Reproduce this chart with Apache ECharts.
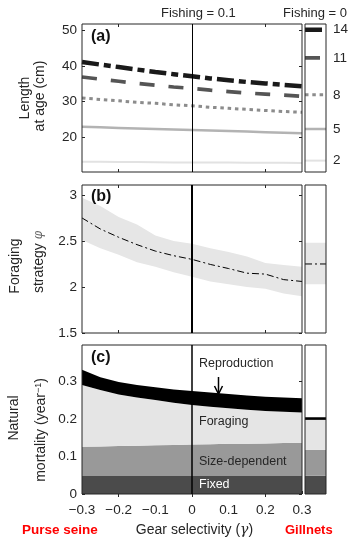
<!DOCTYPE html>
<html>
<head>
<meta charset="utf-8">
<script src="https://cdn.jsdelivr.net/npm/echarts@6.0.0/dist/echarts.min.js"></script>
<style>
  html, body { margin: 0; padding: 0; background: #fff; }
  #chart { width: 350px; height: 541px; }
</style>
</head>
<body>
<div id="chart"></div>
<script>
// gear selectivity values (x of the three main panels)
const gamma = [-0.3, -0.25, -0.2, -0.15, -0.1, -0.05, 0, 0.05, 0.1, 0.15, 0.2, 0.25, 0.3];
const gammaTicks = [-0.3, -0.2, -0.1, 0, 0.1, 0.2, 0.3];
const frameTicks = [-0.2, 0, 0.2];

// (a) length at age (cm), fishing = 0.1
const ages = ['2', '5', '8', '11', '14'];
const lenAge2 = [13.1, 13.05, 13.0, 13.0, 12.95, 12.9, 12.9, 12.85, 12.85, 12.8, 12.8, 12.8, 12.75];
const lenAge5 = [22.9, 22.75, 22.6, 22.45, 22.3, 22.15, 22.0, 21.85, 21.7, 21.55, 21.4, 21.25, 21.1];
const lenAge8 = [31.0, 30.6, 30.2, 29.8, 29.5, 29.1, 28.8, 28.4, 28.1, 27.8, 27.5, 27.2, 27.0];
const lenAge11 = [36.9, 36.3, 35.7, 35.1, 34.6, 34.1, 33.7, 33.2, 32.8, 32.4, 32.1, 31.8, 31.5];
const lenAge14 = [41.1, 40.4, 39.7, 39.0, 38.3, 37.7, 37.1, 36.5, 36.0, 35.5, 35.1, 34.7, 34.3];
// fishing = 0, ages 2, 5, 8, 11, 14
const lenNoFishing = [13.4, 22.3, 31.9, 42.3, 50.2];
const lengthTicks = [20, 30, 40, 50];

// (b) foraging strategy phi
const phiMean = [2.75, 2.63, 2.54, 2.46, 2.39, 2.34, 2.30, 2.245, 2.20, 2.15, 2.14, 2.08, 2.06];
const phiLow = [2.51, 2.42, 2.35, 2.27, 2.22, 2.16, 2.11, 2.06, 2.03, 2.00, 1.98, 1.93, 1.90];
const phiHigh = [2.97, 2.88, 2.76, 2.68, 2.56, 2.50, 2.47, 2.42, 2.38, 2.33, 2.26, 2.24, 2.22];
const phiNoFishing = { low: 2.03, mean: 2.25, high: 2.48 };
const phiTicks = [1.5, 2, 2.5, 3];

// (c) natural mortality components (year^-1)
const mFixed = [0.048, 0.048, 0.048, 0.048, 0.048, 0.048, 0.048, 0.048, 0.048, 0.048, 0.048, 0.048, 0.048];
const mSize = [0.078, 0.079, 0.080, 0.081, 0.082, 0.083, 0.084, 0.085, 0.086, 0.086, 0.087, 0.088, 0.089];
const mForaging = [0.165, 0.151, 0.138, 0.129, 0.121, 0.113, 0.106, 0.100, 0.095, 0.091, 0.087, 0.084, 0.081];
const mRepro = [0.041, 0.034, 0.033, 0.033, 0.034, 0.035, 0.037, 0.038, 0.038, 0.038, 0.038, 0.038, 0.038];
const mNoFishing = { fixed: 0.049, size: 0.069, foraging: 0.080, repro: 0.007 };
const mortTicks = [0, 0.1, 0.2, 0.3];

const FONT = '"Liberation Sans", Arial, Helvetica, sans-serif';
const INK = '#262626';
const TICK_FS = 13.5;

const flat = v => [v, v];
const minus = v => String(v).replace('-', '\u2212');
const zeroIdx = gamma.indexOf(0);

// one main panel + one narrow "fishing = 0" panel per row
const panels = [
  { top: 24, height: 148, min: 10.2, max: 51.8, ticks: lengthTicks, xTicks: frameTicks, xLabels: false, zeroW: 1 },
  { top: 185, height: 148, min: 1.5, max: 3.108, ticks: phiTicks, xTicks: frameTicks, xLabels: false, zeroW: 2 },
  { top: 345, height: 149, min: 0, max: 0.398, ticks: mortTicks, xTicks: gammaTicks, xLabels: true, zeroW: 1.5 }
];

const grid = [], xAxis = [], yAxis = [];
const tickStyle = { color: INK, width: 1 };
const noLine = { show: false };
const catTick = list => ({
  show: true, inside: true, length: 3, alignWithLabel: true,
  interval: i => list.includes(gamma[i]), lineStyle: tickStyle
});

panels.forEach((p, k) => {
  grid.push({ left: 82, top: p.top, width: 220, height: p.height, show: true, borderColor: INK, borderWidth: 1, z: 4 });
  grid.push({ left: 305, top: p.top, width: 21, height: p.height, show: true, borderColor: INK, borderWidth: 1, z: 4 });

  xAxis.push({
    gridIndex: 2 * k, type: 'category', data: gamma.map(String), boundaryGap: false, position: 'bottom',
    axisLine: noLine, splitLine: noLine, axisTick: catTick(p.xTicks),
    axisLabel: p.xLabels
      ? { interval: i => gammaTicks.includes(gamma[i]), formatter: minus, fontSize: TICK_FS, color: INK, fontFamily: FONT, margin: 9 }
      : { show: false }
  });
  xAxis.push({
    gridIndex: 2 * k, type: 'category', data: gamma.map(String), boundaryGap: false, position: 'top',
    axisLine: noLine, splitLine: noLine, axisTick: catTick(frameTicks), axisLabel: { show: false }
  });
  xAxis.push({ gridIndex: 2 * k + 1, type: 'category', data: ['L', 'R'], boundaryGap: false, show: false });

  yAxis.push({
    gridIndex: 2 * k, type: 'value', min: p.min, max: p.max, position: 'left',
    axisLine: noLine, splitLine: noLine,
    axisTick: { show: true, inside: true, length: 3, customValues: p.ticks, lineStyle: tickStyle },
    axisLabel: { customValues: p.ticks, fontSize: TICK_FS, color: INK, fontFamily: FONT, margin: 5 }
  });
  yAxis.push({
    gridIndex: 2 * k, type: 'value', min: p.min, max: p.max, position: 'right',
    axisLine: noLine, splitLine: noLine,
    axisTick: { show: true, inside: true, length: 3, customValues: p.ticks, lineStyle: tickStyle },
    axisLabel: { show: false }
  });
  yAxis.push({ gridIndex: 2 * k + 1, type: 'value', min: p.min, max: p.max, show: false });
});

const base = { type: 'line', showSymbol: false, silent: true, animation: false, symbol: 'none' };
const onMain = (k, s) => Object.assign({ xAxisIndex: 3 * k, yAxisIndex: 3 * k }, base, s);
const onSmall = (k, s) => Object.assign({ xAxisIndex: 3 * k + 2, yAxisIndex: 3 * k + 2 }, base, s);
const zeroLine = k => ({
  silent: true, symbol: 'none', z: 6, label: { show: false },
  lineStyle: { color: '#000', width: panels[k].zeroW, type: 'solid' },
  data: [{ xAxis: zeroIdx }]
});

const series = [];

// (a)
const ageLook = {
  '2': { color: '#e2e2e2', width: 2, type: 'solid' },
  '5': { color: '#b3b3b3', width: 2.5, type: 'solid' },
  '8': { color: '#8c8c8c', width: 3, type: [3.5, 3.8] },
  '11': { color: '#555555', width: 3.7, type: [15, 14] },
  '14': { color: '#1a1a1a', width: 4.5, type: [17, 5, 7, 5] }
};
const lenSeries = [lenAge2, lenAge5, lenAge8, lenAge11, lenAge14];
ages.forEach((age, i) => {
  const look = Object.assign({ cap: 'butt' }, ageLook[age]);
  series.push(onMain(0, { name: 'age ' + age, data: lenSeries[i], lineStyle: look }));
  series.push(onSmall(0, {
    name: 'age ' + age + ' (F=0)', data: flat(lenNoFishing[i]), lineStyle: look,
    endLabel: { show: true, formatter: age, distance: 7, color: INK, fontSize: TICK_FS, fontFamily: FONT }
  }));
});
series.push(onMain(0, { name: 'zero a', data: [], markLine: zeroLine(0) }));

// (b)
const bandFill = '#e6e6e6';
const dashDot = [7, 3, 2, 3];
series.push(onMain(1, { name: 'phi low', data: phiLow, stack: 'phi', lineStyle: { opacity: 0 } }));
series.push(onMain(1, {
  name: 'phi band', data: phiHigh.map((h, i) => h - phiLow[i]), stack: 'phi',
  lineStyle: { opacity: 0 }, areaStyle: { color: bandFill, opacity: 1 }
}));
series.push(onMain(1, {
  name: 'phi', data: phiMean, z: 3,
  lineStyle: { color: '#000', width: 1, type: dashDot }, markLine: zeroLine(1)
}));
series.push(onSmall(1, { name: 'phi0 low', data: flat(phiNoFishing.low), stack: 'phi0', lineStyle: { opacity: 0 } }));
series.push(onSmall(1, {
  name: 'phi0 band', data: flat(phiNoFishing.high - phiNoFishing.low), stack: 'phi0',
  lineStyle: { opacity: 0 }, areaStyle: { color: bandFill, opacity: 1 }
}));
series.push(onSmall(1, { name: 'phi0', data: flat(phiNoFishing.mean), z: 3, lineStyle: { color: '#000', width: 1, type: dashDot } }));

// (c)
const mortParts = [
  { key: 'fixed', vals: mFixed, color: '#4b4b4b' },
  { key: 'size', vals: mSize, color: '#999999' },
  { key: 'foraging', vals: mForaging, color: '#e5e5e5' },
  { key: 'repro', vals: mRepro, color: '#000000' }
];
mortParts.forEach(part => {
  series.push(onMain(2, {
    name: part.key, data: part.vals, stack: 'mort',
    lineStyle: { width: 0 }, areaStyle: { color: part.color, opacity: 1 }
  }));
  series.push(onSmall(2, {
    name: part.key + ' F=0', data: flat(mNoFishing[part.key]), stack: 'mort0',
    lineStyle: { width: 0 }, areaStyle: { color: part.color, opacity: 1 }
  }));
});
series.push(onMain(2, { name: 'zero c', data: [], markLine: zeroLine(2) }));

// texts
const txt = (x, y, text, extra) => ({
  type: 'text', x, y, silent: true, z: 20,
  style: Object.assign({ text, fill: INK, fontSize: 13, fontFamily: FONT, align: 'left', verticalAlign: 'middle' }, extra)
});
const vtxt = (x, y, text, extra) => Object.assign(
  txt(x, y, text, Object.assign({ fontSize: 14, align: 'center' }, extra)), { rotation: Math.PI / 2 });

const graphic = [
  txt(161, 13.5, 'Fishing = 0.1'),
  txt(347, 13.5, 'Fishing = 0', { align: 'right' }),
  txt(91, 37, '(a)', { fontSize: 16, fontWeight: 'bold', fill: '#111' }),
  txt(91, 196.5, '(b)', { fontSize: 16, fontWeight: 'bold', fill: '#111' }),
  txt(91, 357.5, '(c)', { fontSize: 16, fontWeight: 'bold', fill: '#111' }),
  vtxt(25, 98, 'Length'),
  vtxt(40, 96, 'at age (cm)'),
  vtxt(15.5, 266, 'Foraging'),
  vtxt(39, 262, 'strategy {p|\u03c6}', {
    rich: { p: { fontSize: 12, fontStyle: 'italic', fontFamily: '"DejaVu Serif", serif', fill: '#666' } }
  }),
  vtxt(14, 418, 'Natural'),
  vtxt(41, 430, 'mortality (year{s|\u22121})', {
    rich: { s: { fontSize: 9, verticalAlign: 'top', fontFamily: FONT, fill: INK } }
  }),
  txt(199, 364, 'Reproduction', { fontSize: 12.5 }),
  txt(199, 421.7, 'Foraging', { fontSize: 12.5 }),
  txt(199, 461.7, 'Size-dependent', { fontSize: 12.5 }),
  txt(199, 485, 'Fixed', { fontSize: 12.5, fill: '#fff' }),
  {
    type: 'group', silent: true, z: 20,
    children: [
      { type: 'line', shape: { x1: 218.5, y1: 377, x2: 218.5, y2: 394 }, style: { stroke: '#000', lineWidth: 1.5 } },
      { type: 'polyline', shape: { points: [[214.5, 386], [218.5, 394], [222.5, 386]] }, style: { stroke: '#000', lineWidth: 1.5, fill: null } }
    ]
  },
  txt(22, 530, 'Purse seine', { fontSize: 13.5, fontWeight: 'bold', fill: '#ff0000' }),
  txt(194.5, 530, 'Gear selectivity ({g|\u03b3})', {
    align: 'center', fontSize: 14,
    rich: { g: { fontSize: 14, fontStyle: 'italic', fontFamily: '"DejaVu Serif", serif', fill: INK } }
  }),
  txt(285, 530, 'Gillnets', { fontSize: 13, fontWeight: 'bold', fill: '#ff0000' })
];

const chart = echarts.init(document.getElementById('chart'), null, { renderer: 'canvas' });
chart.setOption({
  animation: false,
  backgroundColor: '#fff',
  grid, xAxis, yAxis, series, graphic
});
</script>
</body>
</html>
